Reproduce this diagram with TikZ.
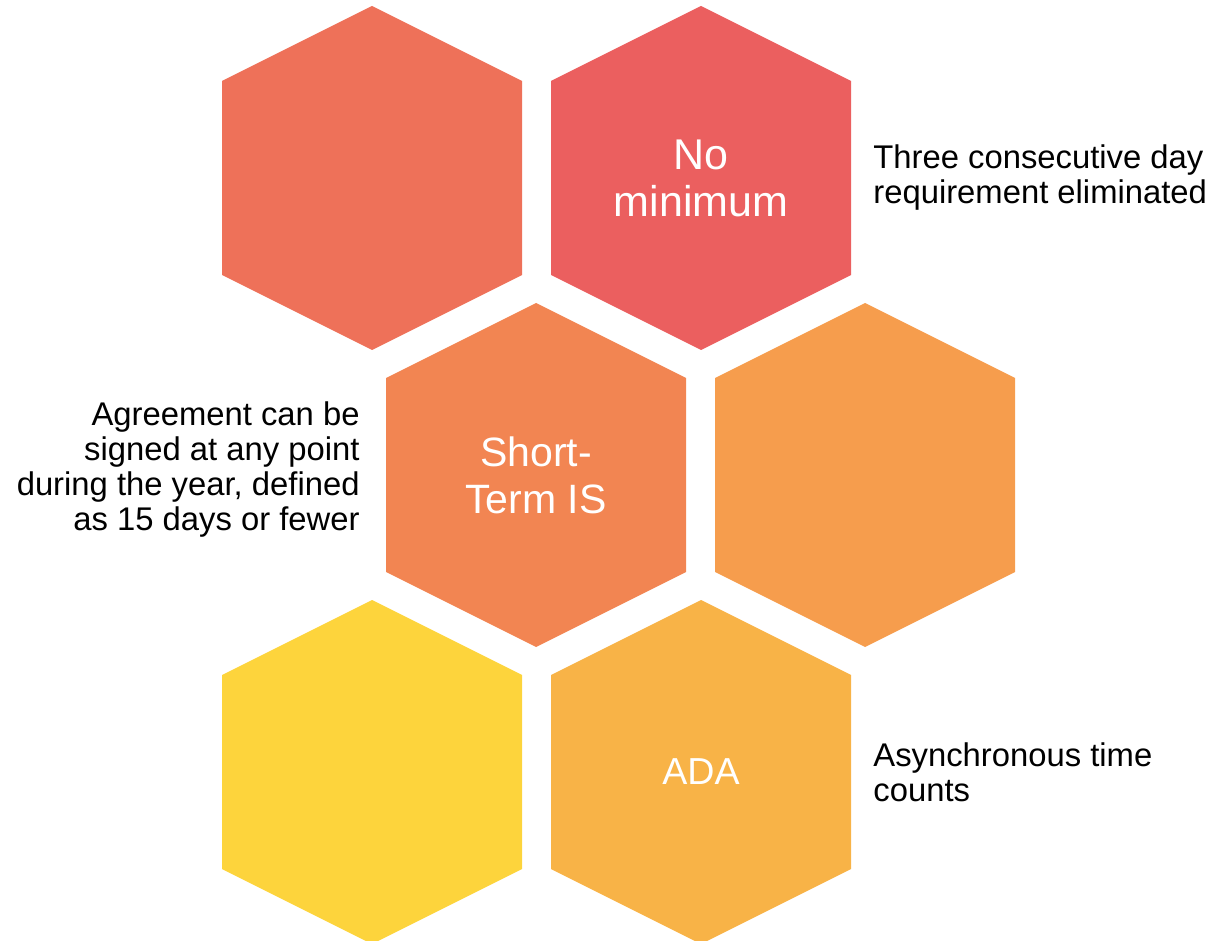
\documentclass[tikz,border=0pt]{standalone}
\usepackage{fontspec}
\setmainfont{Liberation Sans}
\usetikzlibrary{positioning}

\definecolor{hexA}{HTML}{EE7159}
\definecolor{hexB}{HTML}{EB5F5F}
\definecolor{hexC}{HTML}{F28552}
\definecolor{hexD}{HTML}{F69D4D}
\definecolor{hexE}{HTML}{FDD43C}
\definecolor{hexF}{HTML}{F8B347}

\tikzset{
  hexlabel/.style={text=white, align=center, inner sep=0pt,
    font=\fontsize{#1}{23.5}\selectfont},
  note/.style={text=black, inner sep=0pt,
    font=\fontsize{16.4}{17.5}\selectfont},
}

\begin{document}
\begin{tikzpicture}[x=0.5pt, y=-0.5pt]
    \useasboundingbox (0,0) rectangle (1222,941);

    % honeycomb
    \foreach \nm/\x/\y/\col/\sz/\txt in {h1/372/178/hexA/20/{},
                                         h2/701/178/hexB/21.5/{No\\minimum},
                                         h3/536/475/hexC/20.5/{Short-\\Term IS},
                                         h4/865/475/hexD/20/{},
                                         h5/372/772/hexE/20/{},
                                         h6/701/772/hexF/18.8/{ADA}} {
        \fill[\col] (\x,\y) ++(0,-172) -- ++(150,75) -- ++(0,194)
            -- ++(-150,75) -- ++(-150,-75) -- ++(0,-194) -- cycle;
        \node[hexlabel=\sz] (\nm) at (\x,\y) {\txt};
    }

    % notes beside the cells
    \node[note, align=left, anchor=west] (n2) at (873,178)
        {Three consecutive day\\requirement eliminated};
    \node[note, align=right, anchor=east] (n3) at (360,470)
        {Agreement can be\\signed at any point\\during the year, defined\\as 15 days or fewer};
    \node[note, align=left, anchor=west] (n6) at (873,772)
        {Asynchronous time\\counts};
\end{tikzpicture}
\end{document}
